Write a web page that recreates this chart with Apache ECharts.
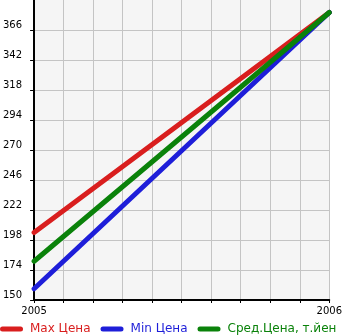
<!DOCTYPE html>
<html><head><meta charset="utf-8">
<script src="https://cdn.jsdelivr.net/npm/echarts@6/dist/echarts.min.js"></script>
<style>html,body{margin:0;padding:0;background:#fff}#c{width:345px;height:335px}</style>
</head><body><div id="c"></div>
<script>
var years = [2005, 2006];
var seriesNames = ['Max Цена', 'Min Цена', 'Сред.Цена, т.йен'];
var maxPrice = [204, 380];
var minPrice = [159, 380];
var avgPrice = [181, 380];
var yTicks = [150, 174, 198, 222, 246, 270, 294, 318, 342, 366];
var colors = ['#d91e1e', '#1e1ed9', '#0a820a'];

var chart = echarts.init(document.getElementById('c'), null, {renderer: 'canvas'});
function pts(arr){ return years.map(function(y,i){ return [y, arr[i]]; }); }
var icon = 'path://M2.5,0 L20.5,0 A2.5,2.5 0 0 1 20.5,5 L2.5,5 A2.5,2.5 0 0 1 2.5,0 Z';
chart.setOption({
  animation: false,
  grid: {left: 31, right: 14, top: 0, bottom: 35, show: true, backgroundColor: '#f5f5f5', borderWidth: 0},
  xAxis: {
    type: 'value', min: 2005, max: 2006, interval: 0.1,
    axisLine: {lineStyle: {color: '#000', width: 2}},
    axisTick: {show: true, length: 3, lineStyle: {color: '#000'}},
    splitLine: {show: true, lineStyle: {color: '#c4c4c4', width: 1}},
    axisLabel: {
      margin: 6, color: '#000', fontFamily: 'DejaVu Sans', fontSize: 10,
      showMinLabel: true, showMaxLabel: true,
      formatter: function(v){ return Math.abs(v - Math.round(v)) < 1e-6 ? String(Math.round(v)) : ''; }
    }
  },
  yAxis: {
    type: 'value', min: 150, max: 390,
    axisLine: {show: true, lineStyle: {color: '#000', width: 2}},
    axisTick: {show: true, length: 4, inside: false, customValues: yTicks, lineStyle: {color: '#000'}},
    splitLine: {show: true, lineStyle: {color: '#c4c4c4', width: 1}},
    axisLabel: {
      customValues: yTicks, margin: 12, color: '#000', fontFamily: 'DejaVu Sans', fontSize: 10,
      verticalAlign: 'bottom', align: 'right'
    }
  },
  legend: {
    bottom: 0, left: 0, padding: 0, itemWidth: 23, itemHeight: 5, itemGap: 10,
    icon: icon,
    textStyle: {fontFamily: 'DejaVu Sans', fontSize: 12, padding: [0,0,0,2]},
    data: seriesNames.map(function(n, i){ return {name: n, textStyle: {color: colors[i]}}; })
  },
  series: [
    {name: seriesNames[0], type: 'line', data: pts(maxPrice), symbol: 'none', lineStyle: {width: 5, color: colors[0], cap: 'round'}, itemStyle: {color: colors[0]}},
    {name: seriesNames[1], type: 'line', data: pts(minPrice), symbol: 'none', lineStyle: {width: 5, color: colors[1], cap: 'round'}, itemStyle: {color: colors[1]}},
    {name: seriesNames[2], type: 'line', data: pts(avgPrice), symbol: 'none', lineStyle: {width: 5, color: colors[2], cap: 'round'}, itemStyle: {color: colors[2]}}
  ]
});
</script></body></html>
